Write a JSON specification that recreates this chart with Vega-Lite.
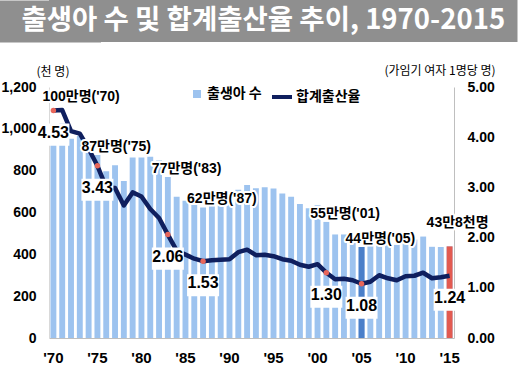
{
  "$schema": "https://vega.github.io/schema/vega-lite/v6.json",
  "padding": 0,
  "spacing": 22,
  "background": "white",
  "config": {
    "view": {"stroke": null},
    "font": "Liberation Sans, Noto Sans CJK KR",
    "axis": {"grid": false, "labelColor": "#000", "titleColor": "#000", "labelFontWeight": "bold", "labelFontSize": 14, "ticks": false},
    "legend": {"labelColor": "#000"}
  },
  "vconcat": [
    {
      "width": 468.5,
      "height": 42,
      "view": {"fill": "#8f8f8f", "stroke": null},
      "data": {"values": [{"t": "출생아 수 및 합계출산율 추이, 1970-2015"}]},
      "mark": {"type": "text", "font": "Noto Sans CJK KR", "fontSize": 27.5, "fontWeight": "bold", "color": "white", "baseline": "middle", "dx": -20},
      "encoding": {
        "text": {"field": "t"},
        "y": {"field": "t", "type": "nominal", "title": null, "axis": {"labels": false, "ticks": false, "title": null, "domainWidth": 103, "domainColor": "#8f8f8f", "domainCap": "butt"}}
      }
    },
    {
      "width": 405,
      "height": 251,
      "data": {"values": [
        {"year": 1970, "births": 1007, "tfr": 4.53, "blabel": "100만명('70)", "tlabel": "4.53"},
        {"year": 1971, "births": 1025, "tfr": 4.54},
        {"year": 1972, "births": 953, "tfr": 4.12},
        {"year": 1973, "births": 966, "tfr": 4.07},
        {"year": 1974, "births": 923, "tfr": 3.77},
        {"year": 1975, "births": 875, "tfr": 3.43, "blabel": "87만명('75)", "tlabel": "3.43"},
        {"year": 1976, "births": 797, "tfr": 3.00},
        {"year": 1977, "births": 826, "tfr": 2.99},
        {"year": 1978, "births": 751, "tfr": 2.64},
        {"year": 1979, "births": 863, "tfr": 2.90},
        {"year": 1980, "births": 863, "tfr": 2.82},
        {"year": 1981, "births": 867, "tfr": 2.57},
        {"year": 1982, "births": 849, "tfr": 2.39},
        {"year": 1983, "births": 770, "tfr": 2.06, "blabel": "77만명('83)", "tlabel": "2.06"},
        {"year": 1984, "births": 675, "tfr": 1.74},
        {"year": 1985, "births": 656, "tfr": 1.66},
        {"year": 1986, "births": 636, "tfr": 1.58},
        {"year": 1987, "births": 624, "tfr": 1.53, "blabel": "62만명('87)", "tlabel": "1.53"},
        {"year": 1988, "births": 633, "tfr": 1.55},
        {"year": 1989, "births": 639, "tfr": 1.56},
        {"year": 1990, "births": 650, "tfr": 1.57},
        {"year": 1991, "births": 709, "tfr": 1.71},
        {"year": 1992, "births": 731, "tfr": 1.76},
        {"year": 1993, "births": 716, "tfr": 1.65},
        {"year": 1994, "births": 721, "tfr": 1.66},
        {"year": 1995, "births": 715, "tfr": 1.63},
        {"year": 1996, "births": 691, "tfr": 1.57},
        {"year": 1997, "births": 675, "tfr": 1.54},
        {"year": 1998, "births": 641, "tfr": 1.46},
        {"year": 1999, "births": 620, "tfr": 1.42},
        {"year": 2000, "births": 635, "tfr": 1.47},
        {"year": 2001, "births": 555, "tfr": 1.30, "blabel": "55만명('01)", "tlabel": "1.30"},
        {"year": 2002, "births": 495, "tfr": 1.17},
        {"year": 2003, "births": 495, "tfr": 1.18},
        {"year": 2004, "births": 476, "tfr": 1.15},
        {"year": 2005, "births": 435, "tfr": 1.08, "blabel": "44만명('05)", "tlabel": "1.08"},
        {"year": 2006, "births": 448, "tfr": 1.12},
        {"year": 2007, "births": 497, "tfr": 1.25},
        {"year": 2008, "births": 466, "tfr": 1.19},
        {"year": 2009, "births": 445, "tfr": 1.15},
        {"year": 2010, "births": 470, "tfr": 1.23},
        {"year": 2011, "births": 471, "tfr": 1.24},
        {"year": 2012, "births": 485, "tfr": 1.30},
        {"year": 2013, "births": 436, "tfr": 1.19},
        {"year": 2014, "births": 435, "tfr": 1.21},
        {"year": 2015, "births": 438, "tfr": 1.24, "blabel": "43만8천명", "tlabel": "1.24"}
      ]},
      "encoding": {
        "x": {
          "field": "year", "type": "ordinal", "title": null,
          "scale": {"paddingInner": 0.33, "paddingOuter": 0.165},
          "axis": {"values": [1970, 1975, 1980, 1985, 1990, 1995, 2000, 2005, 2010, 2015], "labelExpr": "\"'\" + slice(datum.label, 2)", "labelAngle": 0, "labelPadding": 12, "labelBaseline": "top", "labelFontSize": 15, "domainColor": "#bfbfbf"}
        }
      },
      "layer": [
        {
          "encoding": {
            "y": {
              "field": "births", "type": "quantitative",
              "scale": {"domain": [0, 1200], "nice": false},
              "axis": {"title": "(천 명)", "titleAngle": 0, "titleX": 3.5, "titleY": -16, "titleAlign": "center", "titleBaseline": "middle", "titleFont": "Noto Sans CJK KR", "titleFontSize": 12, "titleFontWeight": "normal", "values": [0, 200, 400, 600, 800, 1000, 1200], "format": ",d", "labelPadding": 13, "domainColor": "#d9d9d9"}
            }
          },
          "layer": [
            {
              "mark": {"type": "bar"},
              "encoding": {
                "fill": {"datum": "출생아 수", "scale": {"range": ["#9dc3ef"]},
                  "legend": {"orient": "none", "legendX": 141, "legendY": 87, "title": null, "symbolType": "square", "symbolSize": 64, "symbolStrokeWidth": 0, "labelFont": "Noto Sans CJK KR", "labelFontSize": 14, "labelFontWeight": "bold", "labelOffset": 3, "padding": 0}}
              }
            },
            {
              "transform": [{"filter": "datum.year === 2005 || datum.year === 2015"}],
              "mark": {"type": "bar"},
              "encoding": {"fill": {"condition": {"test": "datum.year === 2015", "value": "#e25a50"}, "value": "#4a7fc9"}}
            }
          ]
        },
        {
          "encoding": {
            "y": {
              "field": "tfr", "type": "quantitative",
              "scale": {"domain": [0, 5], "nice": false},
              "axis": {"orient": "right", "title": "(가임기 여자  1명당 명)", "titleAngle": 0, "titleX": -14.5, "titleY": -17, "titleAlign": "center", "titleBaseline": "middle", "titleFont": "Noto Sans CJK KR", "titleFontSize": 12, "titleFontWeight": "normal", "values": [0, 1, 2, 3, 4, 5], "format": ".2f", "labelPadding": 13, "domainColor": "#bfbfbf"}
            }
          },
          "layer": [
            {
              "mark": {"type": "line", "strokeWidth": 4.5, "strokeJoin": "round"},
              "encoding": {
                "stroke": {"datum": "합계출산율", "scale": {"range": ["#0f1f5e"]},
                  "legend": {"orient": "none", "legendX": 221, "legendY": 85, "title": null, "symbolType": "stroke", "symbolSize": 400, "symbolStrokeWidth": 4, "labelFont": "Noto Sans CJK KR", "labelFontSize": 14, "labelFontWeight": "bold", "labelOffset": 2, "padding": 0}}
              }
            },
            {
              "transform": [{"filter": "datum.tlabel && datum.year !== 2015"}],
              "mark": {"type": "circle", "size": 30, "color": "#e8665a", "opacity": 1}
            },
            {
              "transform": [{"filter": "datum.tlabel"}],
              "mark": {"type": "point", "shape": "M-1,-0.69L1,-0.69L1,0.69L-1,0.69Z", "size": 1024, "filled": true, "fill": "white", "opacity": 1, "strokeWidth": 0, "yOffset": 24}
            },
            {
              "transform": [{"filter": "datum.tlabel"}],
              "mark": {"type": "text", "fontSize": 16, "fontWeight": "bold", "baseline": "middle", "dy": 22, "color": "#000"},
              "encoding": {"text": {"field": "tlabel"}}
            }
          ]
        },
        {
          "encoding": {
            "y": {"field": "births", "type": "quantitative", "scale": {"domain": [0, 1200], "nice": false}, "axis": null},
            "text": {"field": "blabel"}
          },
          "layer": [
            {
              "transform": [{"filter": "datum.blabel && datum.year !== 1970 && datum.year !== 2015"}],
              "mark": {"type": "text", "align": "left", "baseline": "middle", "dx": -16, "dy": -8, "fontSize": 14, "fontWeight": "bold", "fill": "white", "stroke": "white", "strokeWidth": 4, "strokeJoin": "round"}
            },
            {
              "transform": [{"filter": "datum.blabel && datum.year !== 1970 && datum.year !== 2015"}],
              "mark": {"type": "text", "align": "left", "baseline": "middle", "dx": -16, "dy": -8, "fontSize": 14, "fontWeight": "bold", "color": "#000"}
            },
            {
              "transform": [{"filter": "datum.year === 1970"}],
              "mark": {"type": "text", "align": "left", "baseline": "middle", "dx": -11, "dy": -30, "fontSize": 14, "fontWeight": "bold", "fill": "white", "stroke": "white", "strokeWidth": 4, "strokeJoin": "round"}
            },
            {
              "transform": [{"filter": "datum.year === 1970"}],
              "mark": {"type": "text", "align": "left", "baseline": "middle", "dx": -11, "dy": -30, "fontSize": 14, "fontWeight": "bold", "color": "#000"}
            },
            {
              "transform": [{"filter": "datum.year === 2015"}],
              "mark": {"type": "text", "align": "left", "baseline": "middle", "dx": -23, "dy": -23, "fontSize": 14, "fontWeight": "bold", "fill": "white", "stroke": "white", "strokeWidth": 4, "strokeJoin": "round"}
            },
            {
              "transform": [{"filter": "datum.year === 2015"}],
              "mark": {"type": "text", "align": "left", "baseline": "middle", "dx": -23, "dy": -23, "fontSize": 14, "fontWeight": "bold", "color": "#000"}
            }
          ]
        }
      ],
      "resolve": {"scale": {"y": "independent"}}
    }
  ]
}
